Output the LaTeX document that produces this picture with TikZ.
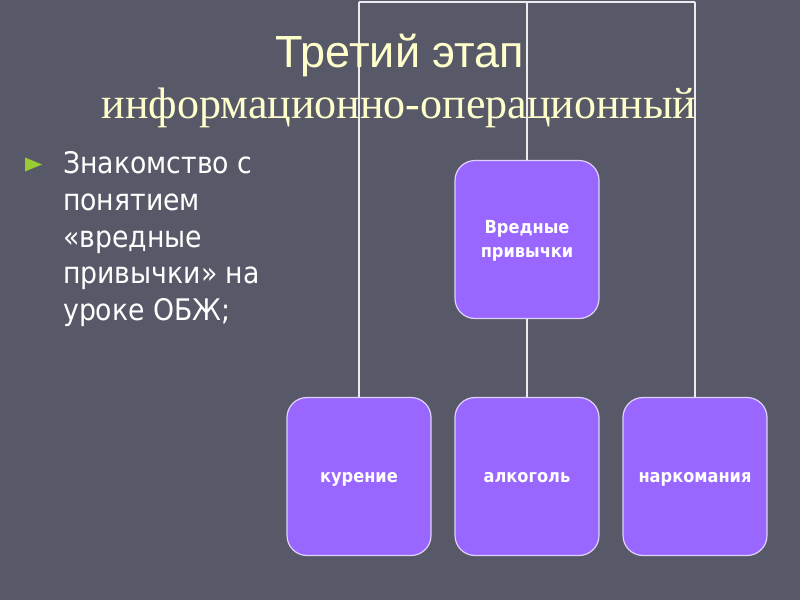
\documentclass[tikz,border=0pt]{standalone}
\usepackage{fontspec}
\setmainfont{Liberation Sans}
\newfontfamily\serifru{Liberation Serif}
\newfontfamily\boxfont{DejaVu Sans Condensed}
\definecolor{bg}{RGB}{88,89,104}
\definecolor{boxfill}{RGB}{153,102,255}
\definecolor{boxline}{RGB}{222,210,250}
\definecolor{titlecol}{RGB}{255,255,204}
\definecolor{bulletcol}{RGB}{153,204,51}
\definecolor{linecol}{RGB}{235,235,240}
\tikzset{
  habit/.style={draw=boxline, line width=1.2pt, fill=boxfill, rounded corners=20pt,
    minimum width=144pt, minimum height=158pt, inner sep=0pt, text=white,
    font=\boxfont\bfseries\fontsize{18}{24}\selectfont, align=center,
    text height=11pt, text depth=0pt},
  conn/.style={draw=linecol, line width=2pt},
  bodytext/.style={text=white, font=\boxfont\fontsize{29.7}{36.5}\selectfont, anchor=base west, inner sep=0pt}
}
\begin{document}
\begin{tikzpicture}[x=1pt,y=-1pt]
\fill[bg] (0,0) rectangle (800,600);
\useasboundingbox (0,0) rectangle (800,600);
% boxes
\node[habit, text height=35pt] (top) at (527,239.5) {Вредные\\привычки};
\node[habit] (k) at (359,476.5) {курение};
\node[habit] (a) at (527,476.5) {алкоголь};
\node[habit] (n) at (695,476.5) {наркомания};
% connector points
\coordinate (cl) at (359,1.5);
\coordinate (cm) at (527,1.5);
\coordinate (cr) at (695,1.5);
\draw[conn] (cl) -- (cr);
\draw[conn] (cl) -- (k.north);
\draw[conn] (cr) -- (n.north);
\draw[conn] (cm) -- (top.north);
\draw[conn] (top.south) -- (a.north);
% title
\node[text=titlecol, font=\fontsize{45}{50}\selectfont, anchor=base, inner sep=0pt] (t1) at (400,67) {Третий этап};
\node[text=titlecol, font=\serifru\fontsize{44}{50}\selectfont, anchor=base, inner sep=0pt] (t2) at (399,118) {информационно-операционный};
% bullet
\fill[bulletcol] (25,157.5) -- (42,164.5) -- (25,171.5) -- cycle;
\node[bodytext] (b1) at (63,173.5) {Знакомство с};
\node[bodytext] (b2) at (63,210.5) {понятием};
\node[bodytext] (b3) at (63,247) {«вредные};
\node[bodytext] (b4) at (63,283.5) {привычки» на};
\node[bodytext] (b5) at (63,320) {уроке ОБЖ;};
\end{tikzpicture}
\end{document}
